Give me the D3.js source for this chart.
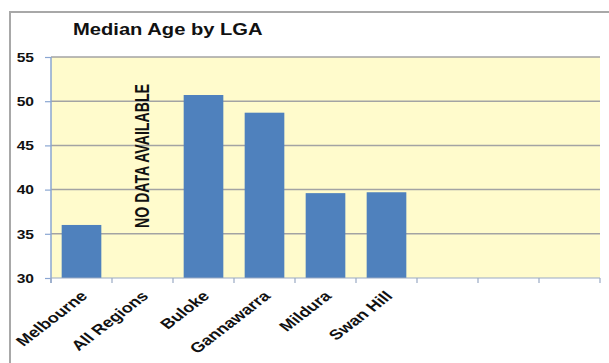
<!DOCTYPE html>
<html>
<head>
<meta charset="utf-8">
<script src="https://cdn.jsdelivr.net/npm/d3@7"></script>
<style>
  html, body { margin: 0; padding: 0; background: #fff; }
  svg { display: block; }
  text { font-family: "Liberation Sans", Arial, Helvetica, sans-serif; font-weight: bold; fill: #111; }
</style>
</head>
<body>
<svg id="chart" width="609" height="363"></svg>
<script>
// Median age by Local Government Area
const categories = ["Melbourne", "All Regions", "Buloke", "Gannawarra", "Mildura", "Swan Hill", "", "", ""];
const medianAge = [36.0, null, 50.7, 48.7, 39.6, 39.7, null, null, null];
const yTicks = [30, 35, 40, 45, 50, 55];
const chartTitle = "Median Age by LGA";
const missingNote = "NO DATA AVAILABLE";

const svg = d3.select("#chart");
const W = 609, H = 363;
const plot = { left: 51, right: 600, top: 57, bottom: 278 };
const stretch = 1.3; // wide glyph aspect used for all labels

// chart frame
svg.append("path")
  .attr("d", `M10,${H} L10,12 L${W},12`)
  .attr("fill", "none").attr("stroke", "#a8a8a8").attr("stroke-width", 2);

const x = d3.scaleBand()
  .domain(d3.range(categories.length))
  .range([plot.left, plot.right])
  .paddingInner(0.35)
  .paddingOuter(0.175);

const y = d3.scaleLinear().domain([30, 55]).range([plot.bottom, plot.top]);

// plot background
svg.append("rect")
  .attr("x", plot.left).attr("y", plot.top)
  .attr("width", plot.right - plot.left).attr("height", plot.bottom - plot.top)
  .attr("fill", "#fffbcc");

// horizontal gridlines
svg.append("g").selectAll("line")
  .data(yTicks.filter(t => t > 30))
  .join("line")
  .attr("x1", plot.left).attr("x2", plot.right)
  .attr("y1", d => y(d)).attr("y2", d => y(d))
  .attr("stroke", "#a3a3a3").attr("stroke-width", 1.5);

// bars
svg.append("g").selectAll("rect")
  .data(categories.map((c, i) => ({ i, v: medianAge[i] })).filter(d => d.v != null))
  .join("rect")
  .attr("x", d => x(d.i))
  .attr("width", x.bandwidth())
  .attr("y", d => y(d.v))
  .attr("height", d => y(30) - y(d.v))
  .attr("fill", "#4f81bd");

// y axis
const yAxis = d3.axisLeft(y).tickValues(yTicks).tickSize(6).tickFormat(d3.format("d"));
const gy = svg.append("g").attr("transform", `translate(${plot.left},0)`).call(yAxis);
gy.select(".domain").attr("stroke", "#8aa6d2").attr("stroke-width", 1.5).attr("d", `M0,${plot.top}V${plot.bottom + 5}`);
gy.selectAll(".tick line").attr("stroke", "#8aa6d2").attr("stroke-width", 1.2);
gy.selectAll(".tick text")
  .attr("font-size", 12)
  .attr("font-weight", "bold")
  .attr("fill", "#222")
  .attr("x", null).attr("dy", null)
  .attr("text-anchor", "end")
  .attr("dominant-baseline", "central")
  .attr("transform", `translate(-17,0) scale(${stretch},1)`);

// x axis line with ticks at category boundaries
const boundaries = d3.range(categories.length + 1).map(i => plot.left + i * (plot.right - plot.left) / categories.length);
svg.append("line")
  .attr("x1", plot.left).attr("x2", plot.right)
  .attr("y1", plot.bottom).attr("y2", plot.bottom)
  .attr("stroke", "#9aaac4").attr("stroke-width", 1.2);
svg.append("g").selectAll("line")
  .data(boundaries)
  .join("line")
  .attr("x1", d => d).attr("x2", d => d)
  .attr("y1", plot.bottom).attr("y2", plot.bottom + 5)
  .attr("stroke", "#9aaac4").attr("stroke-width", 1.2);

// category labels, slanted
svg.append("g").selectAll("text")
  .data(categories.map((c, i) => ({ c, i })).filter(d => d.c))
  .join("text")
  .attr("font-size", 14)
  .attr("text-anchor", "end")
  .attr("transform", d => `translate(${x(d.i) + x.bandwidth() / 2 + 7},${plot.bottom + 19}) scale(${stretch},1) rotate(-45)`)
  .text(d => d.c);

// note for the category without data
const noData = categories.findIndex((c, i) => c && medianAge[i] == null);
svg.append("text")
  .attr("font-size", 16)
  .attr("text-anchor", "middle")
  .attr("textLength", 144)
  .attr("lengthAdjust", "spacingAndGlyphs")
  .attr("transform", `translate(${x(noData) + x.bandwidth() / 2 + 6},156) scale(${stretch},1) rotate(-90)`)
  .text(missingNote);

// title
svg.append("text")
  .attr("font-size", 16)
  .attr("transform", `translate(73,35) scale(${stretch * 0.97},1)`)
  .text(chartTitle);
</script>
</body>
</html>
